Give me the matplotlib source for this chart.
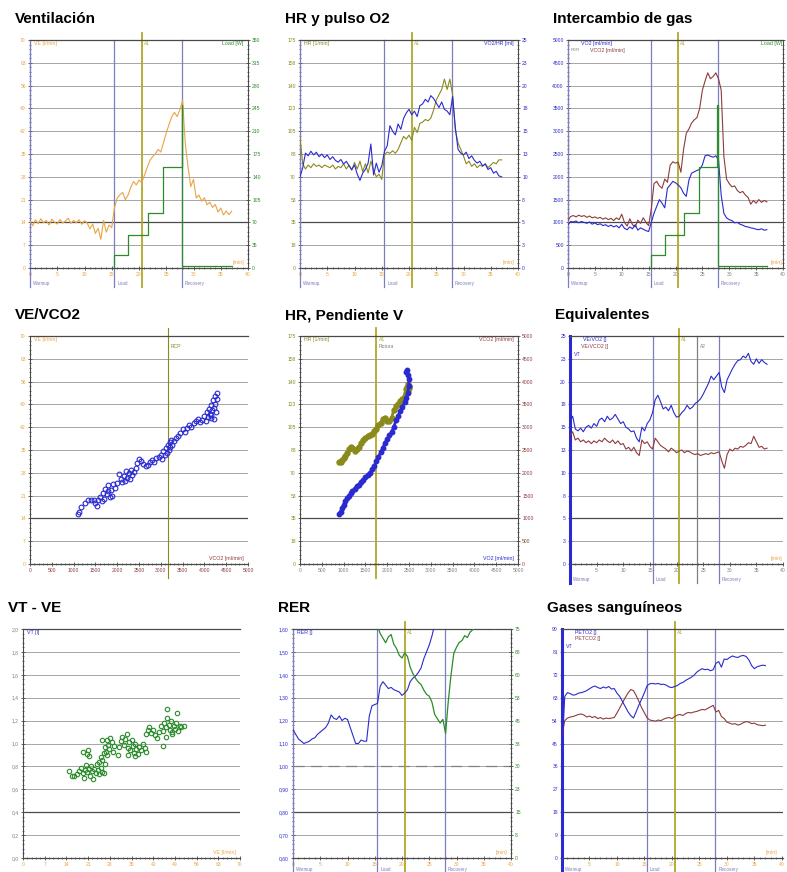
import matplotlib
matplotlib.use("Agg")
import matplotlib.pyplot as plt
from matplotlib.ticker import MultipleLocator

plt.rcParams["font.family"] = ["Liberation Sans", "DejaVu Sans"]

W, H = 787, 872

# ---- data ----
t = [0, 0.5, 1, 1.5, 2, 2.5, 3, 3.5, 4, 4.5, 5, 5.5, 6, 6.5, 7, 7.5, 8, 8.5, 9, 9.5,
     10, 10.5, 11, 11.5, 12, 12.5, 13, 13.5, 14, 14.5, 15, 15.5, 16, 16.5, 17, 17.5,
     18, 18.5, 19, 19.5, 20, 20.5, 21, 21.5, 22, 22.5, 23, 23.5, 24, 24.5, 25, 25.5,
     26, 26.5, 27, 27.5, 28, 28.5, 29, 29.5, 30, 30.5, 31, 31.5, 32, 32.5, 33, 33.5,
     34, 34.5, 35, 35.5, 36, 36.5, 37]

phase_t = [0, 15.5, 27.9]
phase_lbl = ["Warmup", "Load", "Recovery"]
a1_t = 20.5
a2_t = 23.9

ve = [14.2, 13.0, 14.8, 13.6, 15.1, 13.9, 14.6, 13.2, 15.0, 14.1, 13.5, 14.9, 13.8, 14.4,
      15.3, 13.7, 14.6, 13.9, 14.8, 13.4, 14.5, 13.8, 12.0, 13.5, 10.6, 12.2, 8.8, 14.6,
      11.0, 13.2, 12.4,
      18.5, 21.5, 22.5, 23.2, 21.0, 22.4, 24.8, 26.6, 25.5, 27.0, 26.2, 28.5, 30.8, 33.0,
      34.2, 35.0, 36.4, 35.6, 38.5, 41.5, 44.0, 46.4, 47.8, 46.5, 48.6, 51.5, 38.0, 31.0,
      25.0, 27.2, 21.5, 22.4, 20.5, 21.6, 19.4, 20.2, 18.6, 19.5, 17.2, 18.4, 16.3, 17.5,
      16.4, 17.4]

load_t = [15.5, 15.5, 18.0, 21.6, 24.4, 27.8, 27.95, 37.0]
load_w = [0, 20, 50, 85, 155, 250, 3, 3]

hr = [100, 80, 76, 79, 77, 80, 78, 79, 77, 79, 78, 77, 79, 76, 78, 77, 80, 76, 79, 75,
      81, 76, 82, 74, 80, 73, 82, 75, 70, 72, 68,
      87, 89, 88, 90, 88, 91, 96, 101, 99, 102, 98, 108, 104, 111, 112, 114, 113, 115,
      121, 129, 133, 137, 145, 137, 145, 133, 106, 96, 91, 86, 80, 82, 78, 80, 77, 79,
      78, 80, 77, 79, 81, 80, 83, 83]

o2_pulse = [10.0, 11.0, 12.6, 12.3, 12.8, 12.4, 12.7, 12.2, 12.5, 12.1, 12.4, 11.9, 12.2,
            11.8, 11.6, 11.9, 11.4, 11.7, 11.2, 10.8, 11.3, 10.3, 9.6, 10.4, 10.8, 11.5,
            13.6, 10.2, 11.5, 10.5, 11.2,
            12.8, 13.4, 15.6, 15.0, 14.6, 15.8, 15.2, 16.4, 17.0, 17.4, 16.8, 17.2, 16.6,
            17.8, 18.0, 18.5, 18.2, 18.9, 18.6, 18.1, 17.6, 18.2, 17.4, 17.2, 16.8, 18.8,
            15.4, 13.0, 12.6, 12.4, 12.7, 12.0, 12.3, 11.8, 11.5, 11.7, 11.2, 11.4, 10.8,
            11.0, 10.4, 10.6, 10.1, 10.0]

vo2 = [950, 1020, 1010, 1030, 990, 1020, 1000, 980, 1010, 960, 990, 950, 970, 930, 950,
       910, 940, 900, 930, 880, 960, 870, 840, 900, 860, 950, 830, 880, 850, 820, 800,
       1000, 1200, 1350, 1500, 1420, 1320, 1750, 1820, 1900, 1870, 1820, 1760, 1640, 1570,
       1930, 2080, 2110, 2140, 2160, 2260, 2460, 2480, 2450, 2430, 2460, 2370, 1600, 1200,
       1100, 1060, 1040, 990, 1000, 960, 940, 910, 900, 880, 870, 850, 840, 860, 830, 840]

vco2 = [1050, 1130, 1150, 1120, 1160, 1130, 1150, 1110, 1140, 1100, 1120, 1090, 1110, 1070,
        1100, 1060, 1090, 1040, 1100, 1060, 1180, 1000, 920, 1080, 950, 900, 1050, 980,
        1100, 1000, 930,
        1300, 1850, 1900, 1800, 1750, 1950, 1880, 2250, 2330, 2300, 2320, 2100, 2600, 2950,
        3050, 3180, 3250, 3300, 3500, 3900, 4100, 4280, 4150, 4200, 4280, 4150, 3900, 2450,
        1950, 1850, 1780, 1800, 1700, 1650, 1680, 1600, 1550, 1400, 1480, 1420, 1500, 1440,
        1480, 1450]

# VE vs VCO2 scatter
sc_vco2 = [1100, 1130, 1180, 1250, 1320, 1400, 1460, 1500, 1540, 1560, 1600, 1640, 1680,
           1700, 1720, 1760, 1780, 1800, 1830, 1860, 1880, 1900, 1950, 2000, 2050, 2080,
           2100, 2150, 2180, 2200, 2230, 2260, 2290, 2320, 2350, 2380, 2420, 2460, 2500,
           2550, 2600, 2650, 2700, 2760, 2800, 2850, 2900, 2950, 3000, 3030, 3060, 3090,
           3110, 3140, 3160, 3180, 3200, 3220, 3240, 3260, 3300, 3350, 3400, 3450, 3500,
           3550, 3600, 3650, 3700, 3750, 3800, 3850, 3900, 3950, 4000, 4030, 4060, 4080,
           4100, 4120, 4140, 4160, 4180, 4200, 4220, 4240, 4250, 4270, 4280, 4230, 4150, 4290]
sc_ve = [15.2, 16.0, 17.5, 18.8, 19.5, 19.8, 19.6, 18.8, 17.8, 19.6, 20.5, 19.2, 21.8,
         20.0, 23.0, 21.4, 24.2, 22.5, 20.6, 22.8, 21.0, 24.5, 23.2, 24.8, 27.5, 26.0,
         25.2, 27.0, 25.5, 28.6, 26.4, 27.8, 26.2, 28.9, 27.2, 28.2, 29.5, 31.0, 32.2,
         31.6, 30.6, 30.2, 30.5, 31.4, 32.0, 31.2, 32.4, 32.8, 33.5, 32.2, 34.8, 33.4,
         35.6, 34.0, 36.5, 35.0, 37.4, 35.8, 38.2, 36.4, 37.8, 38.6, 39.2, 40.2, 41.4,
         40.6, 41.8, 42.6, 42.0, 43.2, 43.8, 44.5, 43.6, 44.2, 45.4, 44.0, 46.6, 45.0,
         47.6, 46.0, 48.8, 45.6, 47.4, 50.2, 48.0, 51.5, 49.2, 46.8, 52.6, 44.6, 44.8, 50.6]
rcp_vco2 = 3170

# HR and VCO2 vs VO2
sl_vo2 = [900, 930, 960, 1000, 1040, 1080, 1120, 1160, 1200, 1250, 1300, 1350, 1400, 1450,
          1500, 1550, 1600, 1650, 1700, 1750, 1800, 1850, 1900, 1950, 2000, 2050, 2100,
          2150, 2200, 2250, 2300, 2350, 2400, 2440, 2470, 2490, 2500, 2480, 2460, 2440]
sl_hr = [78, 78.5, 80, 81, 83, 85, 88, 90, 89, 87, 88, 90, 93, 95, 97, 98, 99, 100, 102,
         104, 107, 108, 111, 112, 110, 110, 112, 118, 121, 123, 125, 127, 129, 131, 133,
         135, 137, 138, 136, 134]
sl_vco2 = [1100, 1150, 1220, 1300, 1380, 1450, 1500, 1550, 1600, 1650, 1700, 1740, 1800,
           1850, 1900, 1960, 2000, 2080, 2150, 2250, 2350, 2450, 2550, 2650, 2750, 2820,
           2900, 3000, 3150, 3250, 3350, 3450, 3550, 3650, 3750, 3900, 4050, 4150, 4250,
           4220]
a1_vo2 = 1750

ve_vo2 = [15.6, 16.2, 14.8, 14.6, 14.9, 14.5, 15.0, 15.2, 14.9, 15.4, 15.1, 15.8, 16.0,
          15.6, 16.2, 15.8, 16.0, 16.4, 15.9, 15.4, 15.6, 15.0, 14.8, 14.5, 14.6, 13.8,
          13.4, 15.0, 14.6, 15.4, 15.8,
          16.6, 18.0, 18.5, 17.8, 17.0, 17.2, 16.8, 17.4, 16.6, 16.1, 16.2, 16.6, 16.9,
          17.4, 17.0, 17.2, 17.6, 17.8, 18.1, 18.6, 19.2, 19.8, 20.6, 20.2, 20.6, 21.0,
          19.4, 18.8, 20.2, 20.8, 21.4, 21.9, 22.3, 22.4, 22.8, 22.6, 23.1, 22.2, 21.9,
          22.5, 22.0, 22.4, 22.1, 21.9]
ve_vco2 = [14.1, 14.5, 13.6, 13.8, 13.4, 13.6, 13.3, 13.5, 13.2, 13.5, 13.3, 13.6, 13.4,
           13.8, 13.5, 13.3, 13.6, 13.2, 13.5, 13.1, 13.2, 12.6, 12.8, 12.4, 12.8, 12.2,
           11.9, 13.6, 13.2, 13.4, 12.9,
           12.6, 13.8, 13.4, 13.0, 12.8, 12.6, 12.3, 12.7, 12.5, 12.2, 12.4, 12.5, 12.2,
           12.4, 12.3, 12.1, 12.0, 12.1, 11.9, 12.0, 12.1, 12.0, 12.2, 12.1, 12.2, 12.3,
           11.3, 10.5, 12.0, 12.6, 12.4, 12.7, 12.6, 12.9, 12.8, 13.0, 13.3, 13.2, 14.0,
           13.4, 12.8, 12.9, 12.6, 12.7]

# VT vs VE scatter
vt_ve = [14.8, 15.8, 16.5, 17.5, 18.2, 18.8, 19.2, 19.6, 20.0, 20.4, 20.8, 21.2, 21.6,
         22.0, 22.3, 22.7, 23.0, 23.4, 23.8, 24.2, 24.6, 25.0, 25.6, 26.2, 19.5, 20.6,
         21.0, 21.4,
         24.5, 25.0, 25.6, 26.0, 26.4, 26.8, 27.0, 27.4, 27.8, 28.2, 28.6, 27.2, 26.6,
         25.4, 28.9, 29.5, 30.5,
         31.0, 31.6, 32.0, 32.5, 33.0, 33.4, 33.8, 34.2, 34.6, 35.0, 35.4, 35.8, 36.2,
         36.6, 37.0, 37.5, 38.0, 38.6, 39.2, 39.8, 34.0, 36.0,
         39.6, 40.2, 40.8, 41.4, 42.0, 42.6, 43.2, 43.8, 44.4, 45.0, 45.5, 46.0, 46.5,
         47.0, 47.4, 47.8, 48.2, 48.6, 49.0, 49.5, 50.0, 50.5, 51.0, 52.0, 46.4, 49.6,
         45.2, 46.2, 48.0]
vt_l = [0.76, 0.72, 0.72, 0.73, 0.76, 0.79, 0.74, 0.70, 0.77, 0.81, 0.75, 0.78, 0.72,
        0.80, 0.76, 0.69, 0.78, 0.74, 0.82, 0.77, 0.73, 0.79, 0.75, 0.74, 0.93, 0.91,
        0.94, 0.89,
        0.84, 0.88, 0.86, 0.92, 0.97, 0.93, 1.03, 0.99, 0.95, 1.05, 1.01, 0.90, 0.82,
        1.03, 0.93, 0.98, 0.90,
        0.97, 1.02, 1.06, 0.99, 1.04, 1.08, 0.96, 1.01, 0.94, 1.03, 0.98, 0.92, 1.00,
        0.95, 0.91, 0.97, 0.94, 1.00, 0.96, 0.93, 0.90, 0.89,
        1.08, 1.12, 1.14, 1.09, 1.12, 1.07, 1.05, 1.10, 1.15, 1.11, 1.18, 1.14, 1.22,
        1.16, 1.12, 1.20, 1.10, 1.15, 1.13, 1.18, 1.11, 1.15, 1.14, 1.15, 1.30, 1.27,
        0.98, 1.06, 1.08]

rer = [1.16, 1.14, 1.12, 1.11, 1.10, 1.105, 1.11, 1.12, 1.125, 1.14, 1.15, 1.16, 1.17,
       1.19, 1.225, 1.21, 1.205, 1.22, 1.20, 1.21, 1.205, 1.17, 1.135, 1.10, 1.10, 1.115,
       1.11, 1.11, 1.22, 1.265, 1.27, 1.275, 1.35, 1.37, 1.355, 1.34, 1.345, 1.335, 1.33,
       1.325, 1.31, 1.32, 1.335, 1.37, 1.385, 1.395, 1.41, 1.43, 1.47, 1.50, 1.53, 1.57,
       1.62, 1.70]
rer_green = [76.0, 73.5, 72.0, 70.5, 72.4, 73.2, 70.0, 68.6, 66.4, 65.5, 67.2, 66.0, 62.5,
             60.4, 58.8, 57.6, 56.8, 55.0, 53.6, 53.0, 51.0, 47.0, 45.6, 44.2, 45.4, 40.8,
             51.5, 60.0, 67.0, 69.0, 70.6, 71.2, 72.8, 72.2, 74.0, 74.8, 75.8, 76.4, 75.6,
             76.2, 75.4, 75.8, 75.2, 75.0]

peto2 = [42, 63.5, 65.0, 64.6, 64.0, 64.2, 64.8, 65.0, 65.3, 65.8, 66.5, 67.2, 67.6, 67.0,
         66.6, 67.2, 66.8, 67.4, 66.4, 66.6, 64.8, 63.5, 61.5, 59.5, 57.5, 56.0, 55.0,
         57.5, 60.2, 62.5, 65.0, 67.8, 68.5, 68.6, 68.4, 68.6, 68.2, 68.3, 67.9, 67.2,
         67.0, 67.4, 67.8, 68.6, 69.0, 69.8, 70.4, 71.0, 71.8, 73.0, 73.8, 74.4, 74.0,
         74.2, 73.6, 74.0, 76.5, 77.2, 75.0, 78.2, 78.0, 78.8, 79.4, 79.0, 78.8, 79.4,
         79.6, 79.2, 77.8, 75.6, 74.4, 75.2, 75.5, 75.8, 75.6]
petco2 = [48, 54.0, 55.0, 55.4, 55.6, 56.0, 56.4, 56.6, 56.2, 55.4, 55.8, 55.2, 55.6, 54.8,
          55.2, 54.6, 55.0, 54.8, 55.0, 55.2, 57.0, 59.0, 61.0, 63.0, 64.8, 66.2, 65.8,
          63.8, 61.5, 59.0, 57.0, 55.0, 54.2, 54.0, 53.8, 54.2, 54.0, 54.6, 55.0, 55.2,
          54.8, 55.6, 56.2, 56.4, 56.0, 56.8, 57.2, 57.0, 57.4, 57.6, 58.0, 58.4, 58.2,
          58.8, 59.4, 60.0, 57.4, 58.0, 55.6, 54.8, 53.4, 53.0, 52.6, 52.8, 52.2, 52.6,
          53.2, 53.6, 53.4, 52.8, 53.0, 52.4, 52.2, 52.0, 52.2]

# tick labels
lbl_70 = ["0", "7", "14", "21", "28", "35", "42", "49", "56", "63", "70"]
lbl_350 = ["0", "35", "70", "105", "140", "175", "210", "245", "280", "315", "350"]
lbl_175 = ["0", "18", "35", "53", "70", "88", "105", "123", "140", "158", "175"]
lbl_25 = ["0", "3", "5", "8", "10", "13", "15", "18", "20", "23", "25"]
lbl_5000 = ["0", "500", "1000", "1500", "2000", "2500", "3000", "3500", "4000", "4500", "5000"]
lbl_vt = ["0,0", "0,2", "0,4", "0,6", "0,8", "1,0", "1,2", "1,4", "1,6", "1,8", "2,0"]
lbl_rer = ["0,60", "0,70", "0,80", "0,90", "1,00", "1,10", "1,20", "1,30", "1,40", "1,50", "1,60"]
lbl_75 = ["0", "8", "15", "23", "30", "38", "45", "53", "60", "68", "75"]
lbl_90 = ["0", "9", "18", "27", "36", "45", "54", "63", "72", "81", "90"]
min_ticks = [0, 5, 10, 15, 20, 25, 30, 35, 40]
min_lbl = ["0", "5", "10", "15", "20", "25", "30", "35", "40"]

# colours
PURPLE = "#7c7cc0"
A1_COL = "#b0a828"
ORANGE = "#e9a445"
GREEN = "#2b8c2b"
BLUE = "#2a2ad0"
BROWN = "#8e3b3b"
OLIVE = "#8a8a1c"
GRID = "#a6a6a6"
DARK = "#4a4a4a"
GRAY = "#808080"
FS = 3.6


def rect(x0, y0, x1, y1):
    return [x0 / W, 1 - y1 / H, (x1 - x0) / W, (y1 - y0) / H]


def frame(ax, ylim, ylabels, ycol, xlim, xticks, xlabels, xcol, left_col=DARK):
    ax.set_xlim(*xlim)
    ax.set_ylim(*ylim)
    step = (ylim[1] - ylim[0]) / 10
    yt = [ylim[0] + i * step for i in range(11)]
    ax.set_yticks(yt)
    ax.set_yticklabels(ylabels, color=ycol, fontsize=FS)
    ax.set_xticks(xticks)
    ax.set_xticklabels(xlabels, color=xcol, fontsize=FS)
    ax.xaxis.set_minor_locator(MultipleLocator((xticks[1] - xticks[0]) / 5))
    ax.yaxis.set_minor_locator(MultipleLocator(step / 5))
    ax.tick_params(which="major", direction="inout", length=3, width=0.6, color=DARK, pad=1.5)
    ax.tick_params(which="minor", direction="inout", length=1.6, width=0.5, color=DARK)
    ax.set_axisbelow(True)
    ax.grid(axis="y", color=GRID, lw=0.7)
    ax.axhline(yt[2], color=DARK, lw=0.9, zorder=1)
    for s in ("top", "bottom"):
        ax.spines[s].set_color(DARK)
        ax.spines[s].set_linewidth(0.9)
    ax.spines["left"].set_color(left_col)
    ax.spines["left"].set_linewidth(0.8)
    ax.spines["right"].set_visible(False)


def twin(ax, ylim, ylabels, ycol):
    tw = ax.twinx()
    tw.set_ylim(*ylim)
    step = (ylim[1] - ylim[0]) / 10
    tw.set_yticks([ylim[0] + i * step for i in range(11)])
    tw.set_yticklabels(ylabels, color=ycol, fontsize=FS)
    tw.yaxis.set_minor_locator(MultipleLocator(step / 5))
    tw.tick_params(which="major", direction="inout", length=3, width=0.6, color=DARK, pad=1.5)
    tw.tick_params(which="minor", direction="inout", length=1.6, width=0.5, color=DARK)
    for s in ("left", "top", "bottom"):
        tw.spines[s].set_visible(False)
    tw.spines["right"].set_color(DARK)
    tw.spines["right"].set_linewidth(0.8)
    return tw


def phases(ax, a1=True, x0=True, lbl_y=-0.066):
    tr = ax.get_xaxis_transform()
    for x, lab in zip(phase_t, phase_lbl):
        if x > 0 or x0:
            ax.axvline(x, ymin=-0.085, ymax=1, color=PURPLE, lw=0.9, clip_on=False, zorder=2)
        ax.text(x + 0.5, lbl_y, lab, transform=tr, fontsize=3.3, color=PURPLE, va="center")
    if a1:
        ax.axvline(a1_t, ymin=-0.085, ymax=1.03, color=A1_COL, lw=1.3, clip_on=False, zorder=2)
        ax.text(a1_t + 0.4, 0.995, "A1", transform=tr, fontsize=3.5, color=A1_COL, va="top")


def note(ax, x, y, s, col, ha="left", va="top", fs=3.8):
    ax.text(x, y, s, transform=ax.transAxes, fontsize=fs, color=col, ha=ha, va=va)


fig = plt.figure(figsize=(W / 100, H / 100), dpi=100)

titles = [(15, 19, "Ventilación"), (285, 19, "HR y pulso O2"), (553, 19, "Intercambio de gas"),
          (15, 315, "VE/VCO2"), (285, 315, "HR, Pendiente V"), (555, 315, "Equivalentes"),
          (8, 608, "VT - VE"), (278, 608, "RER"), (547, 608, "Gases sanguíneos")]
for x, y, s in titles:
    fig.text(x / W, 1 - y / H, s, fontsize=11, fontweight="bold", va="center", ha="left")

# ---- Ventilación ----
ax = fig.add_axes(rect(30, 40, 248, 268))
frame(ax, (0, 70), lbl_70, ORANGE, (0, 40), min_ticks, min_lbl, ORANGE, PURPLE)
phases(ax)
ax.plot(t, ve, color=ORANGE, lw=0.8, zorder=3)
tw = twin(ax, (0, 350), lbl_350, GREEN)
tw.plot(load_t, load_w, color=GREEN, lw=0.9, drawstyle="steps-post")
note(ax, 0.02, 0.995, "VE [l/min]", ORANGE)
note(ax, 0.98, 0.995, "Load [W]", GREEN, ha="right")
note(ax, 0.985, 0.012, "[min]", ORANGE, ha="right", va="bottom")

# ---- HR y pulso O2 ----
ax = fig.add_axes(rect(300, 40, 518, 268))
frame(ax, (0, 175), lbl_175, OLIVE, (0, 40), min_ticks, min_lbl, ORANGE, PURPLE)
phases(ax)
ax.plot(t, hr, color=OLIVE, lw=0.8, zorder=3)
tw = twin(ax, (0, 25), lbl_25, BLUE)
tw.plot(t, o2_pulse, color=BLUE, lw=0.8)
note(ax, 0.02, 0.995, "HR [1/min]", OLIVE)
note(ax, 0.98, 0.995, "VO2/HR [ml]", BLUE, ha="right")
note(ax, 0.985, 0.012, "[min]", ORANGE, ha="right", va="bottom")

# ---- Intercambio de gas ----
ax = fig.add_axes(rect(568, 40, 783, 268))
frame(ax, (0, 5000), lbl_5000, BLUE, (0, 40), min_ticks, min_lbl, GRAY, PURPLE)
phases(ax)
ax.plot(t, vco2, color=BROWN, lw=0.8, zorder=3)
ax.plot(t, vo2, color=BLUE, lw=0.8, zorder=3)
tw = twin(ax, (0, 350), lbl_350, GREEN)
tw.tick_params(labelright=False)  # right labels fall outside the image
tw.plot(load_t, load_w, color=GREEN, lw=0.9, drawstyle="steps-post")
note(ax, 0.06, 0.995, "VO2 [ml/min]", BLUE)
note(ax, 0.1, 0.965, "VCO2 [ml/min]", BROWN)
note(ax, 0.012, 0.965, "RER", GRAY, fs=3.2)
note(ax, 0.995, 0.995, "Load [W]", GREEN, ha="right")
note(ax, 0.995, 0.012, "[min]", ORANGE, ha="right", va="bottom")

# ---- VE/VCO2 ----
ax = fig.add_axes(rect(30, 336, 248, 564))
frame(ax, (0, 70), lbl_70, ORANGE, (0, 5000), list(range(0, 5001, 500)), lbl_5000, BROWN)
ax.axvline(rcp_vco2, ymin=-0.06, ymax=1.035, color=OLIVE, lw=0.8, clip_on=False, zorder=2)
ax.text(rcp_vco2 + 60, 0.965, "RCP", transform=ax.get_xaxis_transform(), fontsize=3.6,
        color=OLIVE, va="top")
ax.plot(sc_vco2, sc_ve, ls="none", marker="o", ms=3.4, mfc="none", mec=BLUE, mew=0.8, zorder=3)
note(ax, 0.02, 0.995, "VE [l/min]", ORANGE)
note(ax, 0.98, 0.012, "VCO2 [ml/min]", BROWN, ha="right", va="bottom")

# ---- HR, Pendiente V ----
ax = fig.add_axes(rect(300, 336, 518, 564))
frame(ax, (0, 175), lbl_175, OLIVE, (0, 5000), list(range(0, 5001, 500)), lbl_5000, GRAY)
ax.axvline(a1_vo2, ymin=-0.06, ymax=1.035, color=A1_COL, lw=1.3, clip_on=False, zorder=2)
ax.text(a1_vo2 + 60, 0.995, "A1", transform=ax.get_xaxis_transform(), fontsize=3.6,
        color=A1_COL, va="top")
ax.text(a1_vo2 + 60, 0.965, "Rotura", transform=ax.get_xaxis_transform(), fontsize=3.6,
        color=GRAY, va="top")
ax.plot(sl_vo2, sl_hr, color=OLIVE, lw=2.0, marker="o", ms=3.6, mec=OLIVE, zorder=3)
tw = twin(ax, (0, 5000), lbl_5000, BROWN)
tw.plot(sl_vo2, sl_vco2, color=BLUE, lw=2.0, marker="o", ms=3.2, mec=BLUE)
note(ax, 0.02, 0.995, "HR [1/min]", OLIVE)
note(ax, 0.98, 0.995, "VCO2 [ml/min]", BROWN, ha="right")
note(ax, 0.98, 0.012, "VO2 [ml/min]", BLUE, ha="right", va="bottom")

# ---- Equivalentes ----
ax = fig.add_axes(rect(570, 336, 783, 564))
frame(ax, (0, 25), lbl_25, BLUE, (0, 40), min_ticks, min_lbl, GRAY, BLUE)
phases(ax, x0=False)
ax.axvline(0, ymin=-0.085, ymax=1, color=BLUE, lw=2.2, clip_on=False, zorder=2)
ax.axvline(a2_t, ymin=-0.085, ymax=1, color=GRAY, lw=0.9, clip_on=False, zorder=2)
ax.text(a2_t + 0.5, 0.965, "A2", transform=ax.get_xaxis_transform(), fontsize=3.5,
        color=GRAY, va="top")
ax.plot(t, ve_vco2, color=BROWN, lw=0.8, zorder=3)
ax.plot(t, ve_vo2, color=BLUE, lw=0.8, zorder=3)
note(ax, 0.06, 0.995, "VE/VO2 []", BLUE)
note(ax, 0.053, 0.963, "VE/VCO2 []", BROWN)
note(ax, 0.02, 0.93, "VT", BLUE)
note(ax, 0.995, 0.012, "[min]", ORANGE, ha="right", va="bottom")

# ---- VT - VE ----
ax = fig.add_axes(rect(23, 629, 240, 858))
frame(ax, (0, 2.0), lbl_vt, GRAY, (0, 70), list(range(0, 71, 7)), lbl_70, ORANGE)
ax.plot(vt_ve, vt_l, ls="none", marker="o", ms=3.2, mfc="none", mec=GREEN, mew=0.8, zorder=3)
note(ax, 0.02, 0.995, "VT [l]", BLUE)
note(ax, 0.98, 0.012, "VE [l/min]", ORANGE, ha="right", va="bottom")

# ---- RER ----
ax = fig.add_axes(rect(293, 629, 511, 858))
frame(ax, (0.6, 1.6), lbl_rer, BLUE, (0, 40), min_ticks, min_lbl, ORANGE, PURPLE)
phases(ax, lbl_y=-0.05)
ax.axhline(1.0, color=GRAY, lw=0.9, ls=(0, (9, 5)), zorder=1)
ax.plot(t[:len(rer)], rer, color=BLUE, lw=0.8, zorder=3)
tw = twin(ax, (0, 75), lbl_75, GREEN)
tw.plot(t[31:], rer_green, color=GREEN, lw=0.9)
note(ax, 0.02, 0.995, "RER []", BLUE)
note(ax, 0.985, 0.012, "[min]", ORANGE, ha="right", va="bottom")

# ---- Gases sanguíneos ----
ax = fig.add_axes(rect(562, 629, 783, 858))
frame(ax, (0, 90), lbl_90, BLUE, (0, 40.2), min_ticks, min_lbl, ORANGE, BLUE)
phases(ax, x0=False, lbl_y=-0.05)
ax.axvline(0, ymin=-0.085, ymax=1, color=BLUE, lw=2.2, clip_on=False, zorder=2)
ax.plot(t, petco2, color=BROWN, lw=0.8, zorder=3)
ax.plot(t, peto2, color=BLUE, lw=0.8, zorder=3)
note(ax, 0.057, 0.995, "PETO2 []", BLUE)
note(ax, 0.057, 0.968, "PETCO2 []", BROWN)
note(ax, 0.02, 0.935, "VT", BLUE)
note(ax, 0.975, 0.012, "[min]", ORANGE, ha="right", va="bottom")

fig.savefig("out.png", dpi=100)
